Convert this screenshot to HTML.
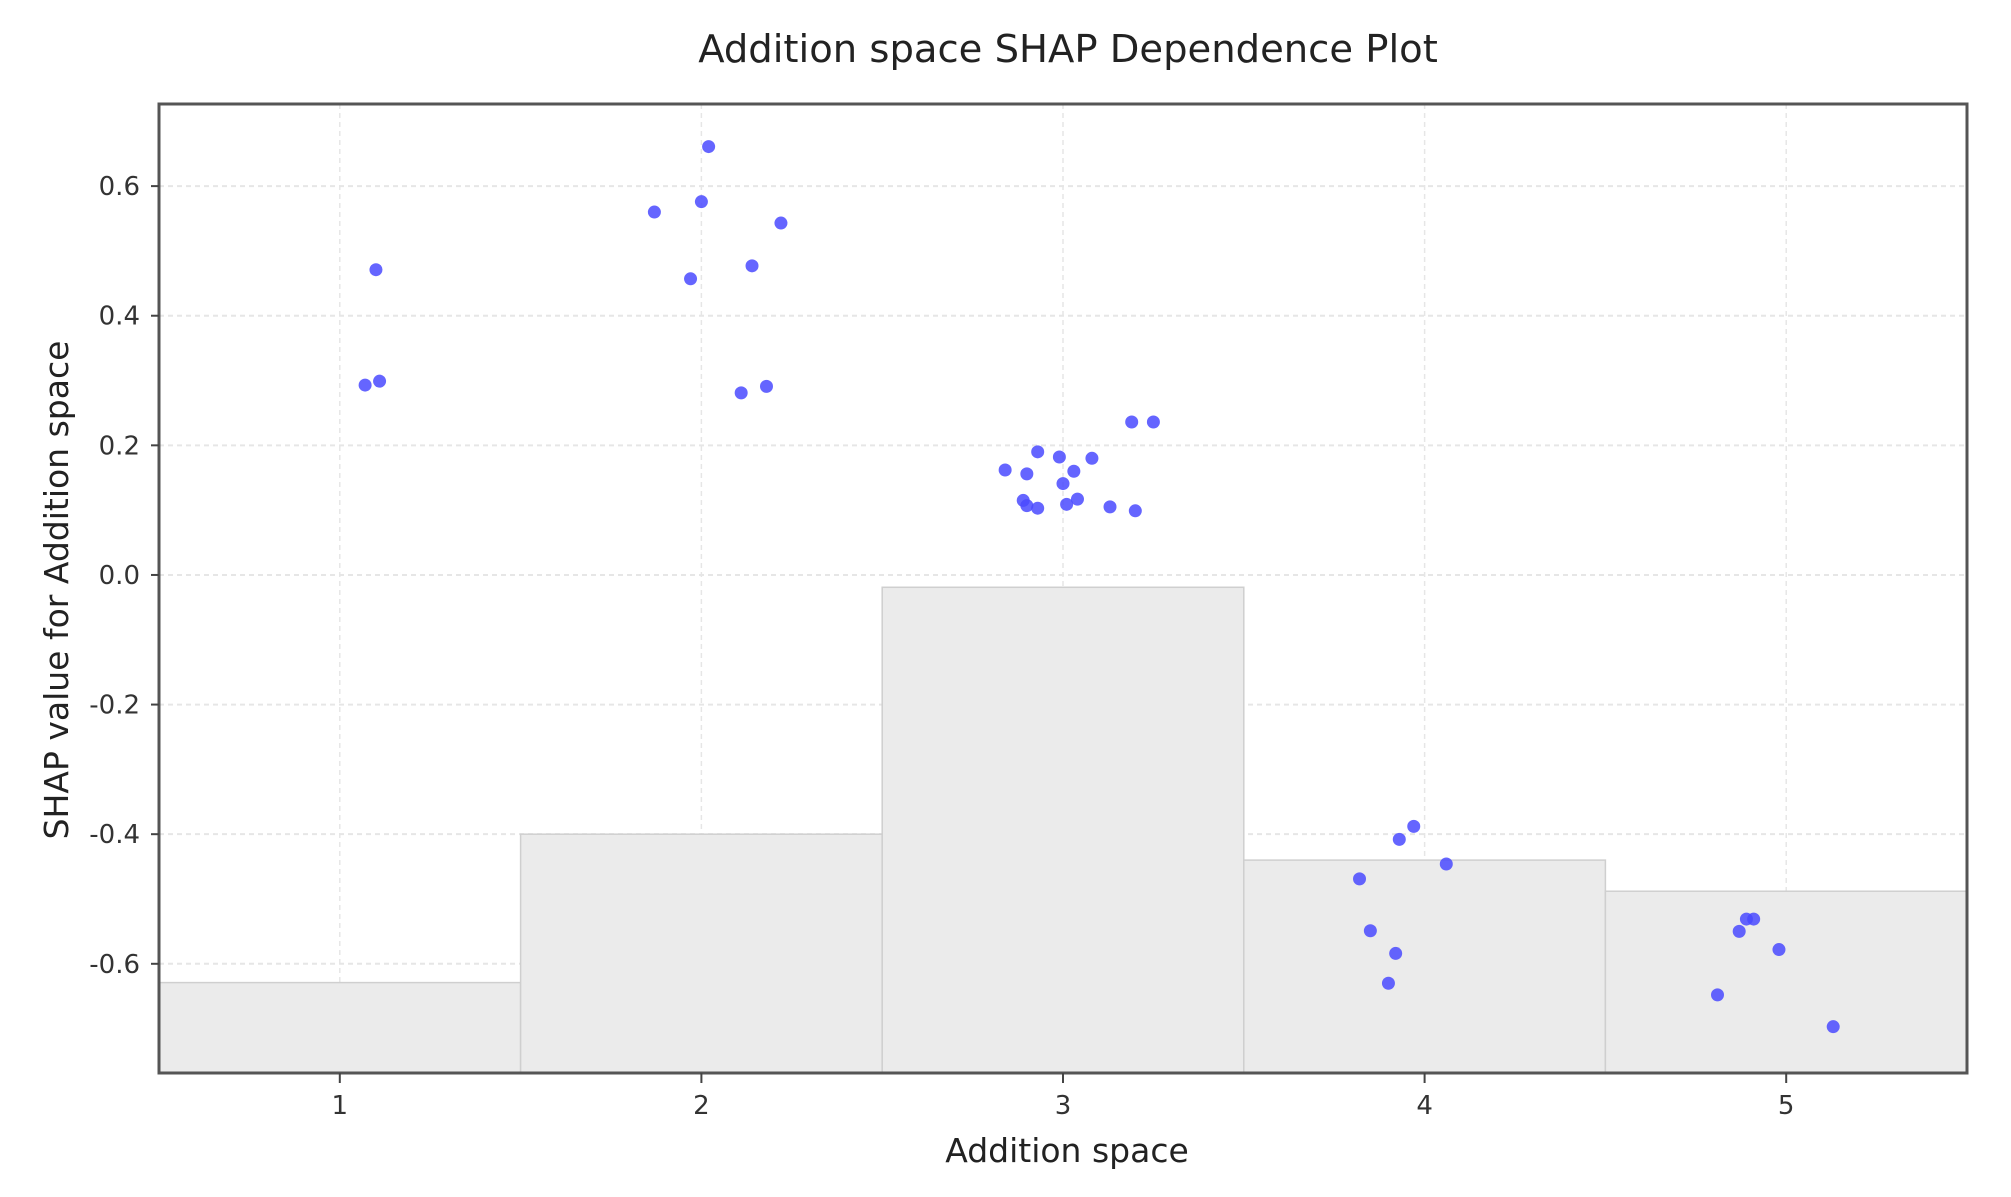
<!DOCTYPE html>
<html><head><meta charset="utf-8"><style>
html,body{margin:0;padding:0;background:#fff;}
svg{display:block;font-family:"DejaVu Sans","Liberation Sans",sans-serif;}
</style></head><body>
<svg id="chart" width="2011" height="1197" viewBox="0 0 2011 1197" xmlns="http://www.w3.org/2000/svg">
<rect width="2011" height="1197" fill="#fff"/>
<text x="1068" y="62" font-size="38.5" text-anchor="middle" fill="#222">Addition space SHAP Dependence Plot</text>
<g id="grid"></g>
<g id="bars"></g>
<g id="points"></g>
<g id="axes"></g>
<text x="1067" y="1162" font-size="33" text-anchor="middle" fill="#222">Addition space</text>
<text x="0" y="0" transform="translate(68,590) rotate(-90)" font-size="33" text-anchor="middle" fill="#222">SHAP value for Addition space</text>
</svg>
<script>
const categories = [1, 2, 3, 4, 5];
const binTops = [-0.629, -0.400, -0.019, -0.440, -0.488];
const xTicks = [1, 2, 3, 4, 5];
const yTicks = [-0.6, -0.4, -0.2, 0.0, 0.2, 0.4, 0.6];
const yTickLabels = ["-0.6", "-0.4", "-0.2", "0.0", "0.2", "0.4", "0.6"];
const pointX = [1.10,1.07,1.11,2.02,1.87,2.00,2.22,1.97,2.14,2.11,2.18,2.84,2.93,2.99,3.08,2.90,3.03,3.00,2.89,2.90,2.93,3.01,3.04,3.13,3.20,3.19,3.25,3.97,3.93,4.06,3.82,3.85,3.92,3.90,4.89,4.91,4.87,4.98,4.81,5.13];
const pointY = [0.471,0.293,0.299,0.661,0.560,0.576,0.543,0.457,0.477,0.281,0.291,0.162,0.190,0.182,0.180,0.156,0.160,0.141,0.115,0.107,0.103,0.109,0.117,0.105,0.099,0.236,0.236,-0.388,-0.408,-0.446,-0.469,-0.549,-0.584,-0.630,-0.531,-0.531,-0.550,-0.578,-0.648,-0.697];

const NS = "http://www.w3.org/2000/svg";
const L = 159, R = 1967, T = 104, B = 1073;
const xMin = 0.5, xMax = 5.5, yMin = -0.7685, yMax = 0.7267;
function xs(v){ return L + (v - xMin) / (xMax - xMin) * (R - L); }
function ys(v){ return B - (v - yMin) / (yMax - yMin) * (B - T); }
function mk(tag, attrs, parent){ const e = document.createElementNS(NS, tag); for (const k in attrs) e.setAttribute(k, attrs[k]); parent.appendChild(e); return e; }

const grid = document.getElementById('grid');
xTicks.forEach(t => {
  const l = mk('line', {x1: xs(t), x2: xs(t), y1: T, y2: B, stroke: '#e6e6e6', 'stroke-width': 1.5, 'stroke-dasharray': '5,4'}, grid);
  
  
});
yTicks.forEach(t => {
  const l = mk('line', {x1: L, x2: R, y1: ys(t), y2: ys(t), stroke: '#e6e6e6', 'stroke-width': 2, 'stroke-dasharray': '5,4'}, grid);
  
  
});

const bars = document.getElementById('bars');
categories.forEach((c, i) => {
  const y0 = ys(binTops[i]);
  const r = mk('rect', {x: xs(c - 0.5), y: y0, width: xs(c + 0.5) - xs(c - 0.5), height: B - y0, fill: '#ebebeb', stroke: '#cfcfcf', 'stroke-width': 1.5}, bars);
  
  
});

const pts = document.getElementById('points');
pointX.forEach((x, i) => {
  const c = mk('circle', {cx: xs(x), cy: ys(pointY[i]), r: 6.5, fill: '#4a4aff', 'fill-opacity': 0.85}, pts);
  
  
});

const axes = document.getElementById('axes');
const frame = mk('rect', {x: L, y: T, width: R - L, height: B - T, fill: 'none', stroke: '#555', 'stroke-width': 3}, axes);


xTicks.forEach(t => {
  const tk = mk('line', {x1: xs(t), x2: xs(t), y1: B, y2: B + 10, stroke: '#444', 'stroke-width': 2}, axes);
  
  
  const tx = mk('text', {x: xs(t), y: B + 41, 'font-size': 26, 'text-anchor': 'middle', fill: '#333'}, axes);
  tx.textContent = String(t);
  
  
});
yTicks.forEach((t, i) => {
  const tk = mk('line', {x1: L - 8, x2: L, y1: ys(t), y2: ys(t), stroke: '#444', 'stroke-width': 2}, axes);
  
  
  const tx = mk('text', {x: 140, y: ys(t) + 9, 'font-size': 26, 'text-anchor': 'end', fill: '#333'}, axes);
  tx.textContent = yTickLabels[i];
  
  
});
</script>
</body></html>
